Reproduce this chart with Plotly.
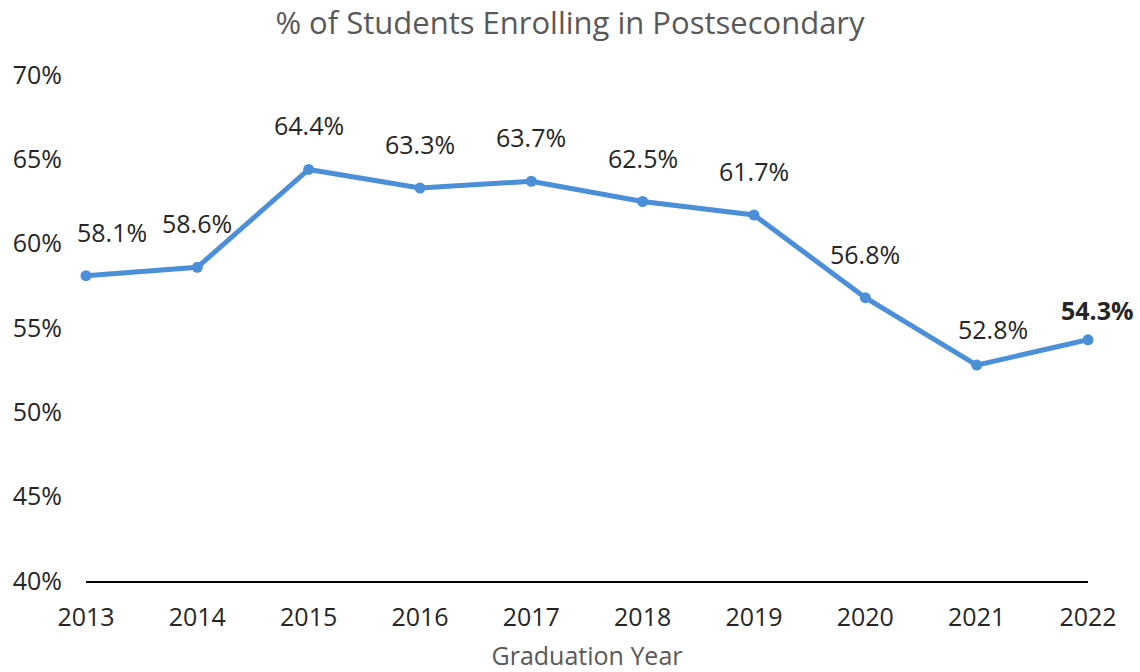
import plotly.graph_objects as go

# Data
years = [2013, 2014, 2015, 2016, 2017, 2018, 2019, 2020, 2021, 2022]
pct = [58.1, 58.6, 64.4, 63.3, 63.7, 62.5, 61.7, 56.8, 52.8, 54.3]
y_ticks = [40, 45, 50, 55, 60, 65, 70]
y_tick_text = ["40%", "45%", "50%", "55%", "60%", "65%", "70%"]

font_name = "Open Sans"
blue = "#4A8FD7"

# label nudges (px) for the few labels Excel moved
label_nudge = {2013: (26, 44), 2021: (16, 36), 2022: (9, 30)}

fig = go.Figure()

fig.add_trace(go.Scatter(
    x=years,
    y=pct,
    mode="lines+markers",
    line={"color": blue, "width": 5},
    marker={"color": blue, "size": 11},
    cliponaxis=False,
    showlegend=False,
    hovertemplate="%{x}: %{y:.1f}%<extra></extra>",
))

# Data labels above points, last one in bold
for i, (yr, v) in enumerate(zip(years, pct)):
    txt = f"{v:.1f}%"
    if i == len(years) - 1:
        txt = f"<b>{txt}</b>"
    dx, dy = label_nudge.get(yr, (0, 44))
    fig.add_annotation(
        x=yr, y=v, text=txt, showarrow=False,
        xshift=dx, yshift=dy,
        font={"family": font_name, "size": 25, "color": "#262626"},
    )

fig.update_layout(
    width=1140,
    height=672,
    margin={"l": 86, "r": 52, "t": 75, "b": 91},
    plot_bgcolor="white",
    paper_bgcolor="white",
    font={"family": font_name, "size": 25, "color": "#262626"},
    title={"text": "% of Students Enrolling in Postsecondary", "x": 0.5, "xanchor": "center",
           "y": 0.966, "yanchor": "middle",
           "font": {"family": font_name, "size": 31, "color": "#595959"}},
    xaxis={
        "range": [2013, 2022],
        "tickvals": years,
        "showgrid": False,
        "zeroline": False,
        "showline": True,
        "linecolor": "#000000",
        "linewidth": 2,
        "ticklabelstandoff": 13,
        "automargin": False,
        "title": {"text": "Graduation Year", "standoff": 17,
                  "font": {"family": font_name, "size": 25, "color": "#595959"}},
    },
    yaxis={
        "range": [40, 70],
        "tickvals": y_ticks,
        "ticktext": y_tick_text,
        "showgrid": False,
        "zeroline": False,
        "showline": False,
        "automargin": False,
        "ticklabelstandoff": 23,
    },
)

# drop the page's default body margin so the figure sits at 0,0
fig.write_html("out.html", config={"displayModeBar": False},
               post_script="document.body.style.margin='0';")
